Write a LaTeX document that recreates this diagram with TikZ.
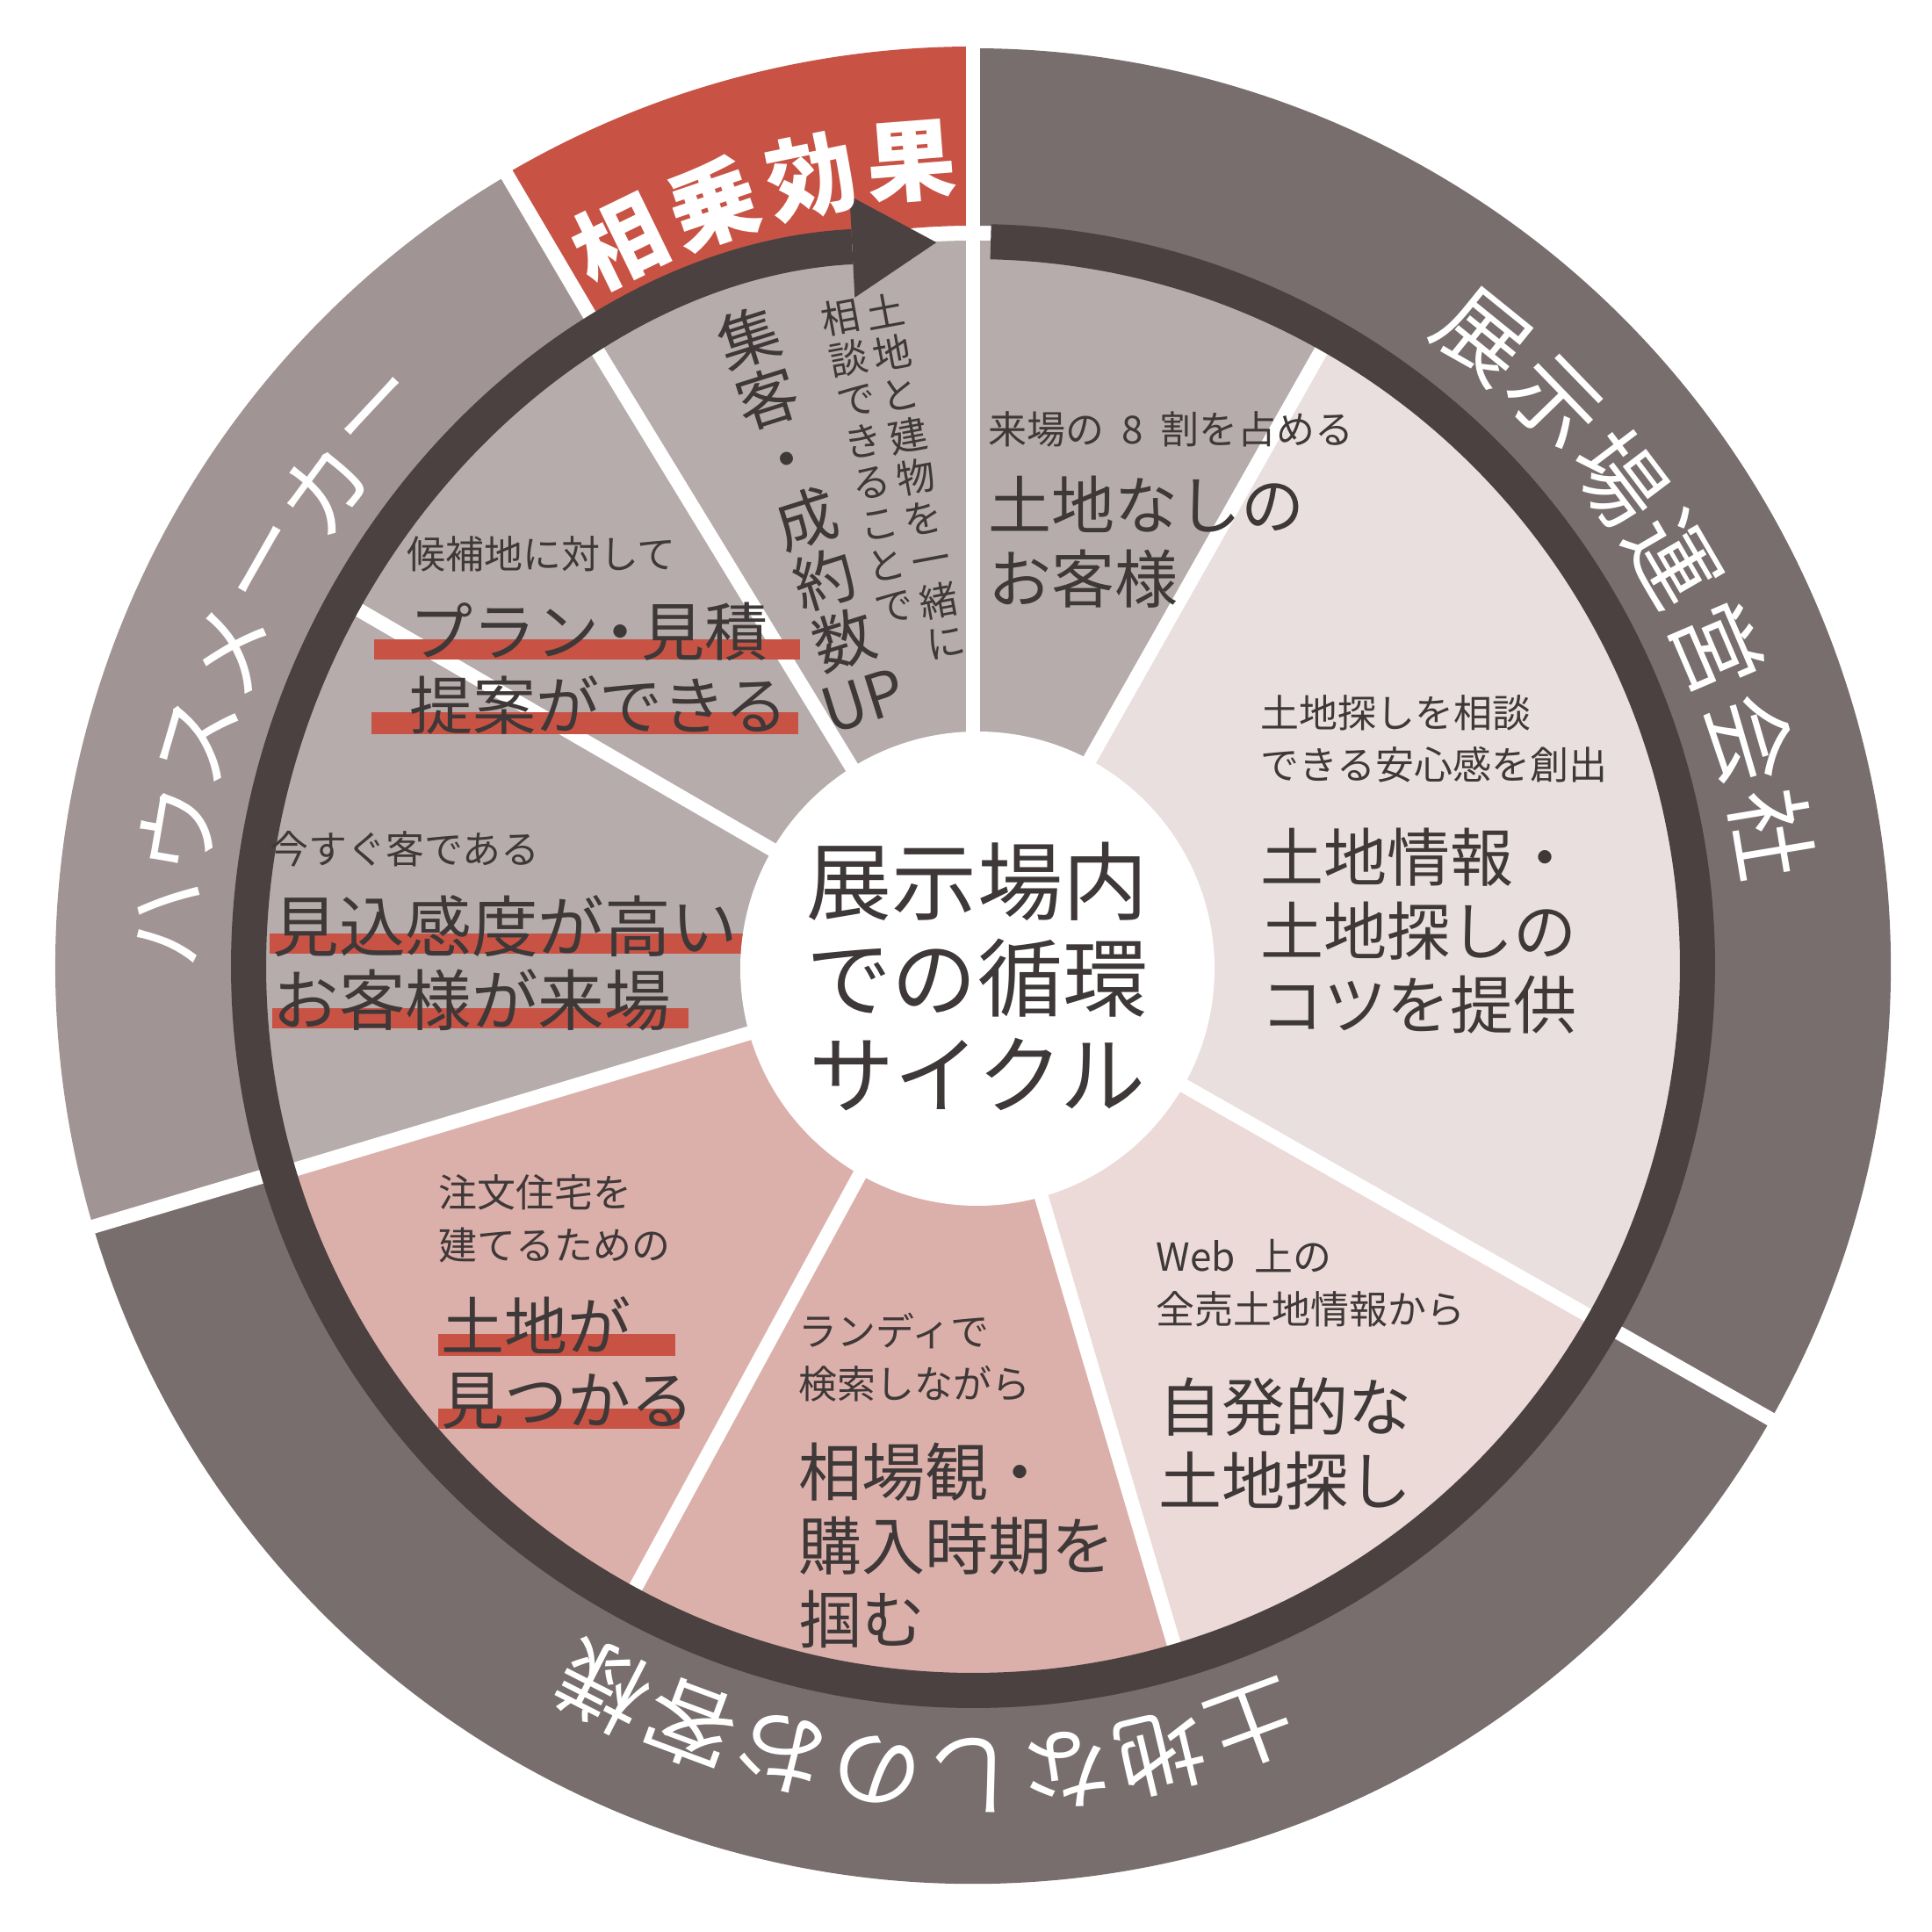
\documentclass[tikz,border=0pt]{standalone}
\usepackage{fontspec}
\usepackage{tikz}
\usetikzlibrary{arrows.meta}
\usepackage{xcolor}
\newfontfamily\jp{Noto Sans CJK JP}
\definecolor{outerbrown}{RGB}{120, 110, 110}
\definecolor{makergray}{RGB}{161, 148, 148}
\definecolor{synred}{RGB}{200, 83, 68}
\definecolor{ringdark}{RGB}{75, 65, 65}
\definecolor{sectgray}{RGB}{182, 172, 172}
\definecolor{sectlight}{RGB}{232, 223, 222}
\definecolor{sectpale}{RGB}{235, 218, 215}
\definecolor{sectpink}{RGB}{220, 176, 170}
\definecolor{inkdark}{RGB}{62, 56, 56}

\begin{document}
\begin{tikzpicture}[
    sepline/.style={white, line width=1.6mm},
    ringtxt/.style={font=\jp\fontsize{29}{29}\selectfont, text=white, inner sep=0pt},
    smalltxt/.style={font=\jp\fontsize{12.5}{17}\selectfont, text=inkdark, align=left, anchor=base west, inner sep=0pt},
    bigtxt/.style={font=\jp\fontsize{20.5}{23.9}\selectfont, text=inkdark, align=left, anchor=base west, inner sep=0pt},
    tatesmall/.style={font=\jp\fontsize{12.5}{13.6}\selectfont, text=inkdark, align=center, inner sep=0pt},
    tatebig/.style={font=\jp\fontsize{20}{20.5}\selectfont, text=inkdark, align=center, inner sep=0pt},
    ulbar/.style={fill=synred}
  ]
  \useasboundingbox (-11.08,-11.00) rectangle (10.92,11.00);

  % --- Outer ring ---
  \fill[outerbrown] (90:8.43) arc[start angle=90, end angle=-29.6, radius=8.43]
    -- (-29.6:10.45) arc[start angle=-29.6, end angle=90, radius=10.45] -- cycle;
  \fill[outerbrown] (-29.6:8.43) arc[start angle=-29.6, end angle=-163.5, radius=8.43]
    -- (-163.5:10.45) arc[start angle=-163.5, end angle=-29.6, radius=10.45] -- cycle;
  \fill[makergray] (196.5:8.43) arc[start angle=196.5, end angle=120.5, radius=8.43]
    -- (120.5:10.45) arc[start angle=120.5, end angle=196.5, radius=10.45] -- cycle;
  \fill[synred] (120.5:8.43) arc[start angle=120.5, end angle=90, radius=8.43]
    -- (90:10.47) arc[start angle=90, end angle=120.5, radius=10.47] -- cycle;

  % --- Inner sectors ---
  \fill[sectgray] (0,0) -- (90:8.26) arc[start angle=90, end angle=60.5, radius=8.26] -- cycle;
  \fill[sectlight] (0,0) -- (60.5:8.26) arc[start angle=60.5, end angle=-29.6, radius=8.26] -- cycle;
  \fill[sectpale] (0,0) -- (-29.6:8.26) arc[start angle=-29.6, end angle=-73.5, radius=8.26] -- cycle;
  \fill[sectpink] (0,0) -- (-73.5:8.26) arc[start angle=-73.5, end angle=-163.3, radius=8.26] -- cycle;
  \fill[sectgray] (0,0) -- (196.7:8.26) arc[start angle=196.7, end angle=90, radius=8.26] -- cycle;

  % White separators
  \draw[sepline] (0,0) -- (90:10.6);
  \draw[sepline] (0,0) -- (-29.6:10.6);
  \draw[sepline] (0,0) -- (60.5:8.3);
  \draw[sepline] (0,0) -- (-73.5:8.3);
  \draw[sepline] (0,0) -- (-118.5:8.3);
  \draw[sepline] (0,0) -- (196.7:8.3);
  \draw[sepline] (0,0) -- (149.9:8.3);
  \draw[sepline] (0,0) -- (121.4:8.3);
  \draw[sepline] (196.5:8.3) -- (196.5:10.6);
  \draw[sepline] (120.5:8.3) -- (120.5:10.6);

  % --- Cycle arrow ---
  \draw[ringdark, line width=4mm, -{Triangle[length=9.6mm, width=11.6mm, line width=0pt]}]
    (88.6:8.25) arc[start angle=88.6, end angle=-267.1, radius=8.25];

  % Underline bars
  \fill[ulbar] (-6.82,3.72) rectangle (-1.97,3.49);
  \fill[ulbar] (-6.85,2.89) rectangle (-1.99,2.64);
  \fill[ulbar] (-8.01,0.37) rectangle (-2.62,0.14);
  \fill[ulbar] (-7.98,-0.48) rectangle (-3.24,-0.71);
  \fill[ulbar] (-6.09,-4.19) rectangle (-3.39,-4.44);
  \fill[ulbar] (-6.09,-5.04) rectangle (-3.34,-5.27);

  % --- Centre ---
  \fill[white] (0.05,-0.03) circle (2.70);
  \node[font=\jp\fontsize{27.6}{31.4}\selectfont, align=center, text=inkdark] (cycletitle)
    at (0.05,-0.12) {展示場内\\での循環\\サイクル};

  % --- Ring labels ---
  \node[ringtxt, rotate=-39.0] (unei1) at (51.0:9.22) {展};
  \node[ringtxt, rotate=-45.9] (unei2) at (44.1:9.22) {示};
  \node[ringtxt, rotate=-52.9] (unei3) at (37.1:9.22) {場};
  \node[ringtxt, rotate=-59.8] (unei4) at (30.2:9.22) {運};
  \node[ringtxt, rotate=-66.8] (unei5) at (23.2:9.22) {営};
  \node[ringtxt, rotate=-73.7] (unei6) at (16.3:9.22) {会};
  \node[ringtxt, rotate=-80.6] (unei7) at (9.4:9.22) {社};

  \node[ringtxt, rotate=-159.8] (guest1) at (-69.8:9.22) {土};
  \node[ringtxt, rotate=-166.6] (guest2) at (-76.6:9.22) {地};
  \node[ringtxt, rotate=-173.3] (guest3) at (-83.3:9.22) {な};
  \node[ringtxt, rotate=-180.1] (guest4) at (-90.1:9.22) {し};
  \node[ringtxt, rotate=-186.8] (guest5) at (-96.8:9.22) {の};
  \node[ringtxt, rotate=-193.6] (guest6) at (-103.6:9.22) {お};
  \node[ringtxt, rotate=-200.4] (guest7) at (-110.4:9.22) {客};
  \node[ringtxt, rotate=-207.1] (guest8) at (-117.1:9.22) {様};

  \node[ringtxt, rotate=87.0] (maker1) at (177.0:9.18) {ハ};
  \node[ringtxt, rotate=80.3] (maker2) at (170.3:9.18) {ウ};
  \node[ringtxt, rotate=73.7] (maker3) at (163.7:9.18) {ス};
  \node[ringtxt, rotate=67.0] (maker4) at (157.0:9.18) {メ};
  \node[ringtxt, rotate=60.3] (maker5) at (150.3:9.18) {ー};
  \node[ringtxt, rotate=53.7] (maker6) at (143.7:9.18) {カ};
  \node[ringtxt, rotate=47.0] (maker7) at (137.0:9.18) {ー};

  \node[ringtxt, font=\jp\bfseries\fontsize{29}{29}\selectfont, rotate=26.0] (synergy1) at (116.0:9.18) {相};
  \node[ringtxt, font=\jp\bfseries\fontsize{29}{29}\selectfont, rotate=18.8] (synergy2) at (108.8:9.18) {乗};
  \node[ringtxt, font=\jp\bfseries\fontsize{29}{29}\selectfont, rotate=11.6] (synergy3) at (101.6:9.18) {効};
  \node[ringtxt, font=\jp\bfseries\fontsize{29}{29}\selectfont, rotate=4.4] (synergy4) at (94.4:9.18) {果};

  % --- Sector texts (anchored at the last line's baseline) ---
  \node[smalltxt] (visitshare) at (0.17,5.94) {来場の\hspace{0.45em}8\hspace{0.45em}割を占める};
  \node[bigtxt] (landless) at (0.17,4.13) {土地なしの\\お客様};

  \node[smalltxt] (consultsafe) at (3.27,2.12) {土地探しを相談\\できる安心感を創出};
  \node[bigtxt] (landtips) at (3.27,-0.72) {土地情報・\\土地探しの\\コツを提供};

  \node[smalltxt] (webinfo) at (2.08,-4.07) {Web\hspace{0.5em}上の\\全売土地情報から};
  \node[bigtxt] (selfsearch) at (2.11,-6.13) {自発的な\\土地探し};

  \node[smalltxt] (landysearch) at (-1.99,-4.92) {ランディで\\検索しながら};
  \node[bigtxt] (marketsense) at (-1.99,-7.71) {相場観・\\購入時期を\\掴む};

  \node[smalltxt] (customhome) at (-6.09,-3.34) {注文住宅を\\建てるための};
  \node[bigtxt] (landfound) at (-6.06,-5.21) {土地が\\見つかる};

  \node[smalltxt] (readybuyer) at (-8.01,1.16) {今すぐ客である};
  \node[bigtxt, font=\jp\fontsize{21.5}{23.9}\selectfont] (hotvisitor) at (-7.98,-0.68) {見込感度が高い\\お客様が来場};

  \node[smalltxt] (candidate) at (-6.45,4.52) {候補地に対して};
  \node[bigtxt] (planquote) at (-6.42,2.69) {プラン\kern-0.17em・\kern-0.17em見積\\提案ができる};

  % Vertical columns
  \node[tatebig, rotate=17.5] (leadsup) at (-1.91,5.115) {集\\客\\・\\成\\約\\数\\UP};
  \node[tatesmall, rotate=10.5] (togetherA) at (-0.655,5.575) {土\\地\\と\\建\\物\\を\\一\\緒\\に};
  \node[tatesmall, rotate=10.5] (togetherB) at (-1.205,5.755) {相\\談\\で\\き\\る\\こ\\と\\で};
\end{tikzpicture}
\end{document}
